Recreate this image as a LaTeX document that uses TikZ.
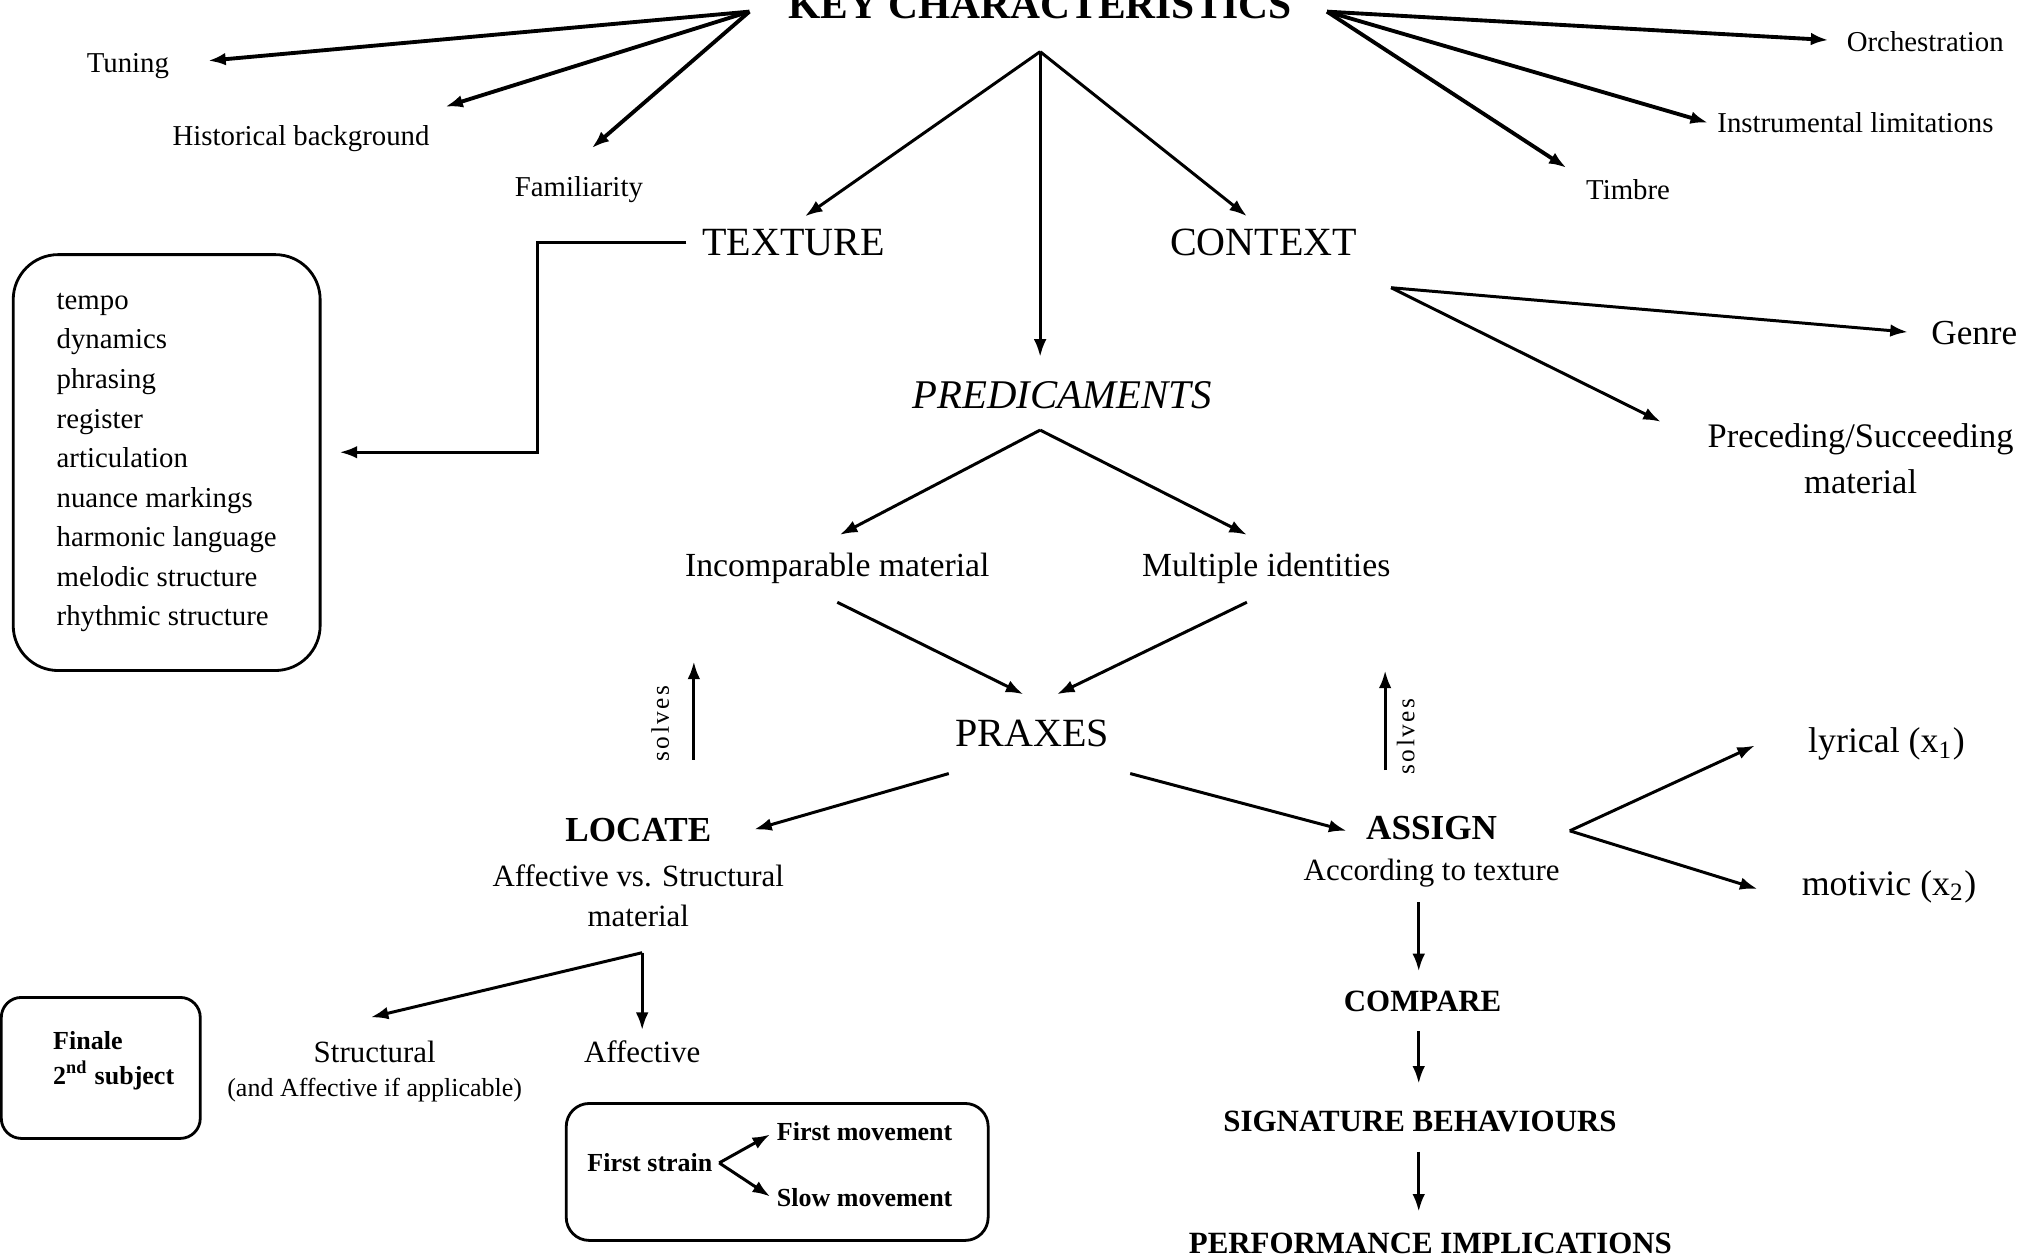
\documentclass[tikz,border=0pt]{standalone}
\usepackage{fontspec}
\setmainfont{Liberation Serif}
\usepackage{tikz}
\usetikzlibrary{arrows.meta}
\usetikzlibrary{positioning}
\tikzset{>=latex}
\tikzstyle{sm} = [draw=none, inner sep=1, font=\fontsize{8.2}{11.25}\selectfont]
\tikzstyle{ms} = [draw=none, inner sep=1, font=\fontsize{8.8}{11.4}\selectfont]
\tikzstyle{md} = [draw=none, inner sep=1, font=\fontsize{9.6}{13.2}\selectfont]
\tikzstyle{lg} = [draw=none, inner sep=1, font=\fontsize{11.4}{14}\selectfont]
\tikzstyle{bd} = [draw=none, inner sep=1, font=\bfseries\fontsize{8.8}{11}\selectfont]
\tikzstyle{bx} = [draw=none, inner sep=1, font=\bfseries\fontsize{7.4}{9.9}\selectfont]
\tikzstyle{sv} = [draw=none, inner sep=1, rotate=90, font=\fontsize{7.2}{9}\selectfont\addfontfeature{LetterSpace=10}]
\tikzstyle{arr} = [-{Latex[length=5pt,width=3.6pt]}, line width=0.85pt]
\tikzstyle{arrk} = [arr, line width=1.1pt]
\tikzstyle{rbox} = [draw, line width=0.8pt, inner sep=0]

\begin{document}
\begin{tikzpicture}[x=0.01292cm, y=-0.01292cm]
\useasboundingbox (0,0) rectangle (1568,972);

% top level
\node [lg, font=\bfseries\fontsize{11.8}{14}\selectfont, anchor=base] (key) at (805,14) {KEY CHARACTERISTICS};
\coordinate (kl) at (580,9);
\coordinate (kr) at (1027,9);
\coordinate (kc) at (805,40);

\node [sm] (tun)  at (99,51)   {Tuning};
\node [sm] (hist) at (233,107) {Historical background};
\node [sm] (fam)  at (448,147) {Familiarity};
\node [sm] (orch) at (1490,32) {Orchestration};
\node [sm] (inst) at (1436,95) {Instrumental limitations};
\node [sm] (timb) at (1260,147) {Timbre};

\draw [arrk] (kl) -- ([shift={(27,-4)}]tun.east);
\draw [arrk] (kl) -- ([shift={(9,-11)}]hist.north east);
\draw [arrk] (kl) -- ([shift={(10,-19)}]fam.north);
\draw [arrk] (kr) -- ([shift={(-11,-1)}]orch.west);
\draw [arrk] (kr) -- ([shift={(-4,0)}]inst.west);
\draw [arrk] (kr) -- ([shift={(-12,-6)}]timb.north west);

\node [lg] (tex) at (614,188) {TEXTURE};
\node [lg] (ctx) at (978,188) {CONTEXT};
\node [lg, font=\itshape\fontsize{11.6}{14}\selectfont] (pred) at (822,306) {PREDICAMENTS};

\draw [arr] (kc) -- ([shift={(9,-7)}]tex.north);
\draw [arr] (kc) -- ([shift={(-17,-16)}]pred.north);
\draw [arr] (kc) -- ([shift={(-13,-7)}]ctx.north);

% texture list
\node [sm, rbox, rounded corners=0.45cm, minimum width=3.07cm, minimum height=4.16cm, align=left] (lst) at (129,358)
  {tempo\\dynamics\\phrasing\\register\\articulation\\nuance markings\\harmonic language\\melodic structure\\rhythmic structure};
\draw [arr] ([shift={(-9,0)}]tex.west) -- ++(-115,0) |- ([shift={(14,-8)}]lst.east);

% context
\node [md, font=\fontsize{10}{13.2}\selectfont] (genre) at (1528,258) {Genre};
\node [md, font=\fontsize{9.8}{13.2}\selectfont, align=center] (prec) at (1440,355) {Preceding/Succeeding\\material};
\coordinate (ctxhub) at ([shift={(23,21)}]ctx.south east);
\draw [arr] (ctxhub) -- ([shift={(-15,-1)}]genre.west);
\draw [arr] (ctxhub) -- ([shift={(-33,2)}]prec.north west);

% predicaments
\node [md] (inc) at (648,440) {Incomparable material};
\node [md] (mul) at (980,440) {Multiple identities};
\coordinate (predhub) at ([shift={(-17,13)}]pred.south);
\draw [arr] (predhub) -- ([shift={(2,-11)}]inc.north);
\draw [arr] (predhub) -- ([shift={(-15,-11)}]mul.north);

\node [lg] (prx) at (799,568) {PRAXES};
\draw [arr] ([shift={(0,11)}]inc.south) -- ([shift={(-7,-17)}]prx.north);
\draw [arr] ([shift={(-15,11)}]mul.south) -- ([shift={(19,-17)}]prx.north);

% solves
\coordinate (sl0) at (537,588);
\coordinate (sl1) at (537,512);
\coordinate (sr0) at (1072,596);
\coordinate (sr1) at (1072,519);
\draw [arr] (sl0) -- (sl1);
\draw [arr] (sr0) -- (sr1);
\node [sv] (svl) at (511,560) {solves};
\node [sv] (svr) at (1088,570) {solves};

% locate
\node [md, font=\bfseries\fontsize{10}{12}\selectfont] (loc) at (494,642) {LOCATE};
\node [ms, align=center] (locsub) at (494,693) {Affective vs. Structural\\material};
\draw [arr] ([shift={(-2,17)}]prx.south west) -- ([shift={(30,0)}]loc.east);

\node [ms] (str)  at (290,814) {Structural};
\node [sm, font=\fontsize{7.4}{9}\selectfont] (strn) at (290,844) {(and Affective if applicable)};
\node [ms] (aff)  at (497,814) {Affective};
\coordinate (lochub) at ([shift={(3,17)}]locsub.south);
\draw [arr] (lochub) -- ([shift={(-3,-15)}]str.north);
\draw [arr] (lochub) -- ([shift={(0,-5)}]aff.north);

\node [rbox, rounded corners=0.2cm, minimum width=1.99cm, minimum height=1.41cm] (finbox) at (78,826.5) {};
\node [bx, align=left] (fin) at (88,821) {Finale\\2\textsuperscript{nd} subject};

\node [rbox, rounded corners=0.23cm, minimum width=4.22cm, minimum height=1.37cm] (strbox) at (601.5,907) {};
\node [bx] (fs) at (503,900) {First strain};
\node [bx, anchor=west] (fm)  at (598,876) {First movement};
\node [bx, anchor=west] (slw) at (598,927) {Slow movement};
\draw [arr] ([shift={(2,0)}]fs.east) -- ([shift={(-2,2)}]fm.west);
\draw [arr] ([shift={(2,0)}]fs.east) -- ([shift={(-2,-1)}]slw.west);

% assign
\node [md, font=\bfseries\fontsize{10}{12}\selectfont] (asg) at (1108,641) {ASSIGN};
\node [ms] (acc) at (1108,676) {According to texture};
\draw [arr] ([shift={(13,17)}]prx.south east) -- ([shift={(-12,2)}]asg.west);

\node [md, font=\fontsize{10.2}{13}\selectfont] (lyr) at (1460,576) {lyrical (x\textsubscript{1})};
\node [md, font=\fontsize{10.2}{13}\selectfont] (mot) at (1462,686) {motivic (x\textsubscript{2})};
\coordinate (asghub) at ([shift={(53,2)}]asg.east);
\draw [arr] (asghub) -- ([shift={(-38,1)}]lyr.west);
\draw [arr] (asghub) -- ([shift={(-31,2)}]mot.west);

\node [bd] (cmp)  at (1101,775) {COMPARE};
\node [bd] (sig)  at (1099,868) {SIGNATURE BEHAVIOURS};
\node [bd] (perf) at (1107,962) {PERFORMANCE IMPLICATIONS};
\draw [arr] ([shift={(-10,8)}]acc.south) -- ([shift={(-3,-12)}]cmp.north);
\draw [arr] ([shift={(-3,12)}]cmp.south) -- ([shift={(-1,-18)}]sig.north);
\draw [arr] ([shift={(-1,12)}]sig.south) -- ([shift={(-9,-13)}]perf.north);
\end{tikzpicture}
\end{document}
